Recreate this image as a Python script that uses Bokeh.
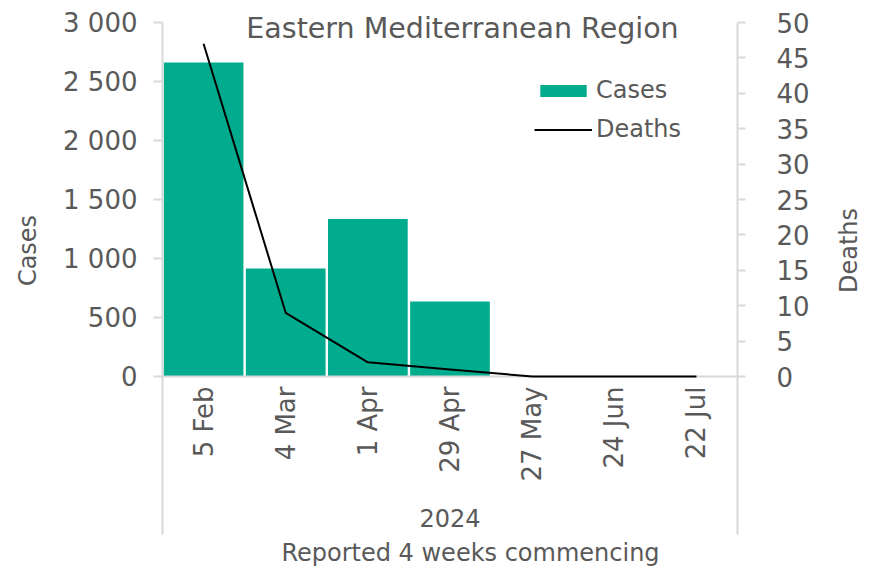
import math
from bokeh.plotting import figure
from bokeh.models import (Range1d, LinearAxis, FixedTicker, Legend, LegendItem,
                          Label, ColumnDataSource)
from bokeh.embed import file_html
from bokeh.resources import INLINE

# ---- data ----
weeks = ["5 Feb", "4 Mar", "1 Apr", "29 Apr", "27 May", "24 Jun", "22 Jul"]
cases = [2660, 915, 1335, 636, 0, 0, 0]
deaths = [47, 9, 2, 1, 0, 0, 0]
year_label = "2024"
case_ticks = [0, 500, 1000, 1500, 2000, 2500, 3000]
case_tick_labels = ["0", "500", "1 000", "1 500", "2 000", "2 500", "3 000"]
death_ticks = [0, 5, 10, 15, 20, 25, 30, 35, 40, 45, 50]

# ---- style / layout ----
GREEN = "#00AB8E"
TEXT = "#595959"
AXIS_GRAY = "#D9D9D9"
FONT = "DejaVu Sans"
W, H = 873, 566
PX_LEFT, PX_RIGHT = 162, 737      # plot area edges (px)
PX_TOP, PX_ZERO, PX_BOTTOM = 22, 376, 534

n = len(weeks)
case_max = case_ticks[-1]
death_max = death_ticks[-1]
xpp = n / (PX_RIGHT - PX_LEFT)
cpp = case_max / (PX_ZERO - PX_TOP)
dpp = death_max / (PX_ZERO - PX_TOP)

def dx(px):
    return (px - PX_LEFT) * xpp

def dy(py):
    return (PX_ZERO - py) * cpp

centers = [i + 0.5 for i in range(n)]
src = ColumnDataSource(dict(x=centers, week=weeks, cases=cases, deaths=deaths))

p = figure(width=W, height=H,
           x_range=Range1d(dx(0), dx(W)),
           y_range=Range1d(dy(H), dy(0)),
           x_axis_location=None, y_axis_location=None,
           output_backend="svg", toolbar_location=None,
           min_border=0, min_border_left=0, min_border_right=0,
           min_border_top=0, min_border_bottom=0)
p.extra_y_ranges = {"deaths": Range1d(-(H - PX_ZERO) * dpp, death_max + PX_TOP * dpp)}
p.outline_line_color = None
p.grid.visible = False
p.background_fill_color = "white"
p.border_fill_color = "white"

bars = p.vbar(x="x", top="cases", width=0.97, source=src,
              fill_color=GREEN, line_color=None)
line = p.line(x="x", y="deaths", source=src, y_range_name="deaths",
              line_color="black", line_width=2, level="overlay")

# x axis at y = 0
xa = LinearAxis(fixed_location=0, bounds=(0, n),
                ticker=FixedTicker(ticks=centers),
                major_label_overrides=dict(zip(centers, weeks)))
xa.minor_tick_line_color = None
xa.major_label_orientation = math.pi / 2
xa.major_tick_line_color = None
xa.major_tick_out = 0
xa.major_tick_in = 0
xa.major_label_standoff = 10
xa.axis_line_color = AXIS_GRAY
xa.axis_line_width = 2
xa.major_label_text_font = FONT
xa.major_label_text_font_size = "26px"
xa.major_label_text_color = TEXT
p.add_layout(xa, "below")

# left axis (cases)
ya = LinearAxis(fixed_location=0, bounds=(dy(PX_BOTTOM), case_max),
                ticker=FixedTicker(ticks=case_ticks),
                major_label_overrides=dict(zip(case_ticks, case_tick_labels)))
ya.minor_tick_line_color = None
ya.major_tick_in = 0
ya.major_tick_out = 9
ya.major_tick_line_color = AXIS_GRAY
ya.major_tick_line_width = 2
ya.axis_line_color = AXIS_GRAY
ya.axis_line_width = 2
ya.major_label_standoff = 16
ya.major_label_text_font = FONT
ya.major_label_text_font_size = "26px"
ya.major_label_text_color = TEXT
p.add_layout(ya, "left")

# right axis (deaths)
ra = LinearAxis(y_range_name="deaths", fixed_location=n,
                bounds=(-(PX_BOTTOM - PX_ZERO) * dpp, death_max),
                ticker=FixedTicker(ticks=death_ticks))
ra.minor_tick_line_color = None
ra.major_tick_in = 0
ra.major_tick_out = 8
ra.major_tick_line_color = AXIS_GRAY
ra.major_tick_line_width = 2
ra.axis_line_color = AXIS_GRAY
ra.axis_line_width = 2
ra.major_label_standoff = 31
ra.major_label_text_font = FONT
ra.major_label_text_font_size = "26px"
ra.major_label_text_color = TEXT
p.add_layout(ra, "right")

legend = Legend(items=[LegendItem(label="Cases", renderers=[bars]),
                       LegendItem(label="Deaths", renderers=[line])],
                location=(534, 423), padding=0, spacing=11, margin=0,
                glyph_width=58, glyph_height=15, label_height=28,
                label_standoff=4, border_line_color=None,
                background_fill_alpha=0, label_text_font=FONT,
                label_text_font_size="24px", label_text_color=TEXT)
p.add_layout(legend)

def add_text(px, py, text, size, angle=0.0):
    p.add_layout(Label(x=dx(px), y=dy(py), text=text, angle=angle,
                       text_align="center", text_baseline="middle",
                       text_font=FONT, text_font_size=size,
                       text_color=TEXT))

add_text(462, 28, "Eastern Mediterranean Region", "28.5px")
add_text(27, 250, "Cases", "24px", math.pi / 2)
add_text(848, 250, "Deaths", "24px", math.pi / 2)
add_text(449.5, 517, year_label, "24px")
add_text(470, 552, "Reported 4 weeks commencing", "24px")

open("out.html", "w").write(file_html(p, INLINE))
